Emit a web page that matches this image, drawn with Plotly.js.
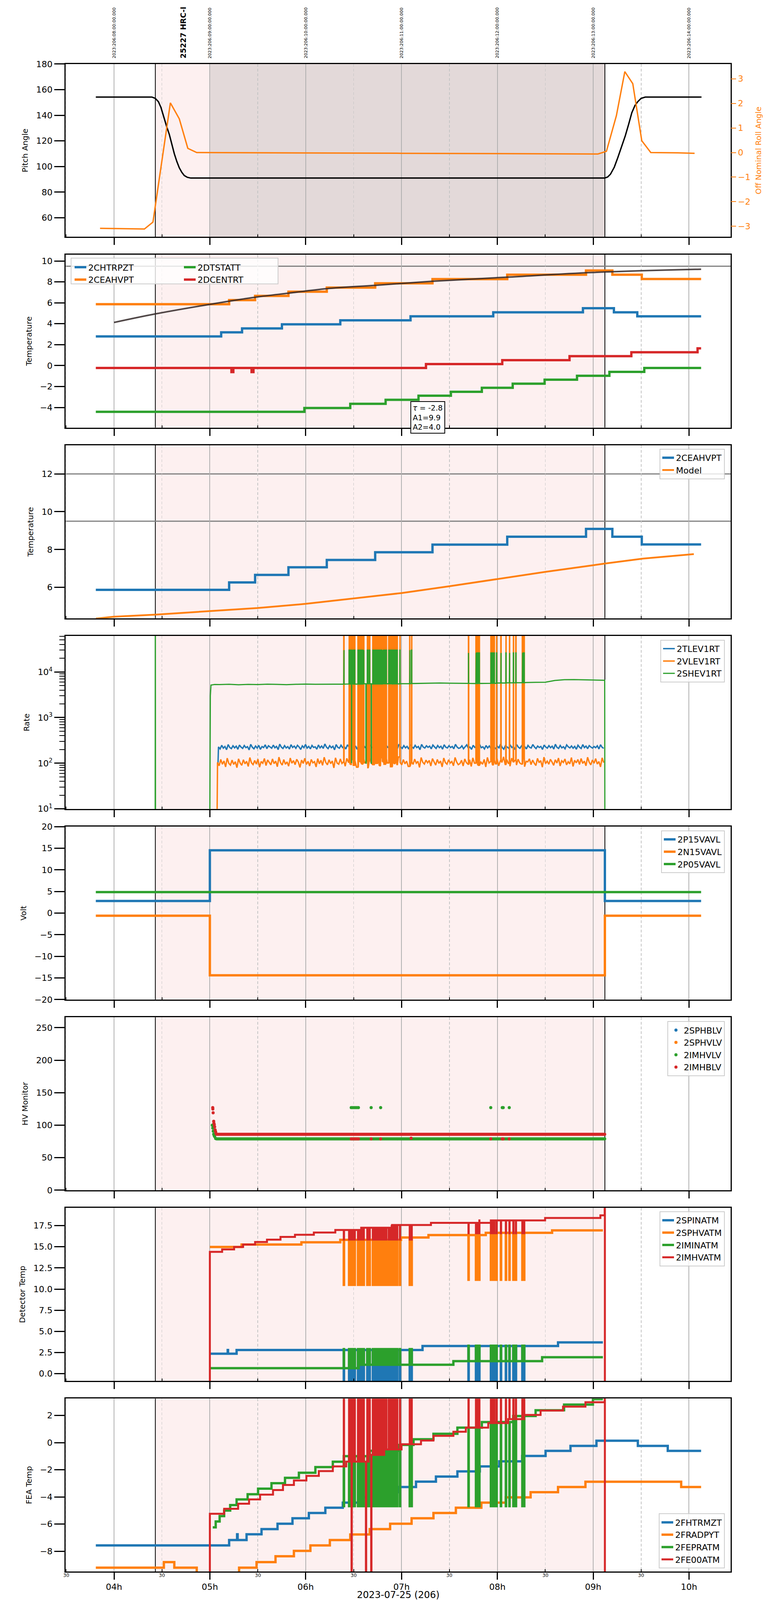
<!DOCTYPE html>
<html>
<head>
<meta charset="utf-8">
<script src="https://cdn.plot.ly/plotly-3.0.1.min.js"></script>
<style>
  html, body { margin: 0; padding: 0; background: #ffffff; }
  #chart { width: 2000px; height: 4096px; }
</style>
</head>
<body>
<div id="chart"></div>
<script>
// ---- time axis (hours, local) ----
var hours = [4, 5, 6, 7, 8, 9, 10];
var hourText = ['04h', '05h', '06h', '07h', '08h', '09h', '10h'];
var halfHours = [3.5, 4.5, 5.5, 6.5, 7.5, 8.5, 9.5];
var utcText = ['2023:206:08:00:00.000', '2023:206:09:00:00.000', '2023:206:10:00:00.000',
  '2023:206:11:00:00.000', '2023:206:12:00:00.000', '2023:206:13:00:00.000', '2023:206:14:00:00.000'];
var timeRange = [3.4947, 10.434];
var obsStart = 4.431, obsEnd = 9.122, sciStart = 5.0;
var obsLabel = '25227 HRC-I', obsLabelT = 4.72;
var dayLabel = '2023-07-25 (206)';

// ---- panel 1: pitch / roll ----
var pitchT = [3.81, 4.395, 4.43, 4.463, 4.49, 4.525, 4.55, 4.577, 4.603, 4.629, 4.655, 4.681, 4.707, 4.733, 4.765, 4.80,
  9.12, 9.15, 9.18, 9.22, 9.257, 9.30, 9.335, 9.37, 9.403, 9.435, 9.465, 9.50, 9.543, 10.13];
var pitchV = [154.2, 154.2, 153.2, 150.6, 146, 137, 131, 125, 117.5, 110, 104, 99, 95.5, 93, 91.6, 91,
  91, 91.8, 94, 99.5, 107, 116, 124, 133, 142, 147.5, 150.6, 153.2, 154.2, 154.2];
var rollT = [3.854, 4.317, 4.406, 4.588, 4.681, 4.770, 4.863, 6.0, 7.0, 8.0, 9.049, 9.138, 9.242, 9.330, 9.413, 9.507, 9.601, 9.882, 10.058];
var rollV = [-3.08, -3.11, -2.83, 2.02, 1.37, 0.17, 0.0, -0.01, -0.03, -0.045, -0.06, 0.05, 1.5, 3.29, 2.8, 0.48, 0.0, -0.01, -0.03];

// ---- panel 2: temperatures ----
var chtrT = [3.81, 5.118, 5.336, 5.752, 6.361, 7.094, 7.957, 8.893, 9.216, 9.46, 10.126];
var chtrV = [2.79, 3.18, 3.55, 3.94, 4.33, 4.71, 5.09, 5.48, 5.09, 4.71, 4.71];
var ceaT = [3.81, 5.201, 5.472, 5.82, 6.22, 6.725, 7.323, 8.103, 8.925, 9.20, 9.507, 10.126];
var ceaV = [5.87, 6.26, 6.66, 7.06, 7.45, 7.86, 8.26, 8.68, 9.09, 8.68, 8.27, 8.27];
var dtsT = [3.81, 5.986, 6.465, 6.834, 7.177, 7.515, 7.838, 8.16, 8.493, 8.831, 9.169, 9.533, 10.126];
var dtsV = [-4.42, -4.05, -3.65, -3.27, -2.88, -2.5, -2.12, -1.73, -1.35, -0.97, -0.6, -0.23, -0.23];
var dcenT = [3.81, 5.225, 5.245, 5.435, 5.455, 7.255, 8.051, 8.753, 9.398, 10.089, 10.126];
var dcenV = [-0.23, -0.62, -0.23, -0.62, -0.23, 0.15, 0.52, 0.9, 1.28, 1.65, 1.65];
var fitT = [4.0, 4.432, 4.998, 5.472, 5.82, 6.22, 6.725, 7.323, 8.103, 8.997, 10.126];
var fitV = [4.12, 4.94, 5.85, 6.53, 6.92, 7.35, 7.67, 8.06, 8.45, 8.9, 9.21];
var fitText = '<i>τ</i> = -2.8<br>A1=9.9<br>A2=4.0';
var tempLimits2 = [9.5];

// ---- panel 3: CEA HV temp vs model ----
var modelT = [3.81, 4.0, 4.43, 5.0, 5.5, 6.0, 6.5, 7.0, 7.5, 8.0, 8.5, 9.0, 9.12, 9.52, 10.05];
var modelV = [4.35, 4.45, 4.56, 4.75, 4.91, 5.13, 5.42, 5.70, 6.06, 6.44, 6.82, 7.17, 7.26, 7.52, 7.76];
var tempLimits3 = [9.5, 12];

// ---- bursts seen in rates / detector temps ----
var burst1T = [6.397, 6.452, 6.460, 6.468, 6.476, 6.484, 6.492, 6.500, 6.510, 6.545, 6.553, 6.561, 6.570,
  6.578, 6.586, 6.595, 6.604, 6.642, 6.650, 6.666, 6.700, 6.707, 6.714, 6.721, 6.728, 6.735, 6.742, 6.749,
  6.756, 6.763, 6.770, 6.777, 6.784, 6.791, 6.798, 6.805, 6.812, 6.819, 6.826, 6.833, 6.840, 6.866, 6.873,
  6.880, 6.887, 6.894, 6.901, 6.908, 6.915, 6.922, 6.930, 6.940, 6.953, 6.982, 7.085, 7.104];
var burst2T = [7.698, 7.776, 7.784, 7.792, 7.800, 7.810, 7.932, 7.940, 7.948, 7.956, 7.966, 7.990, 8.036,
  8.088, 8.125, 8.166, 8.192, 8.260, 8.268, 8.278];
var dropT = [6.478, 6.628, 6.683];

// ---- panel 4: rates ----
var tlevStart = 5.09, tlevEnd = 9.11;
var tlevV = [228,205,247,214,233,198,256,221,209,241,217,236,202,250,225,211,244,219,230,196,259,223,207,238,215,246,201,232,220,253,
  208,241,226,213,249,218,234,199,262,224,210,243,216,231,204,255,221,237,212,247,227,200,240,219,258,214,233,206,245,222,
  229,203,251,217,238,211,264,225,209,242,218,235,197,256,223,213,248,220,231,205,253,226,216,244,210,239,202,260,228,215,
  246,221,233,199,252,224,212,240,218,236,207,257,227,214,249,222,230,201,245,219,238,209,261,225,211,243,217,234,204,255,
  229,213,247,220,232,198,258,226,215,241,223,237,206,250,228,210,244,219,235,203,254,224,216,242,221,233,207,259,227,212,
  218,241,207,232,253,214,226,201,247,222,236,210,258,219,229,205,244,216,239,211,251,224,208,235,217,262,221,203,242,228,
  213,249,220,234,199,255,225,212,240,218,231,206,246,223,215,257,227,209,238,221,233,200,250,226,214,243,219,236,204,260,
  222,211,245,217,230,207,252,228,216,239,213,234,202,248,224,210,256,220,237,208,243,226,215,232,219,241,205,254,223,212];
var vlevStart = 5.08, vlevEnd = 9.11;
var vlevV = [104,88,121,95,112,83,129,99,91,117,94,108,80,125,101,90,119,97,110,85,133,102,93,115,96,123,82,109,100,127,
  89,118,105,92,124,98,111,84,136,103,91,120,95,107,86,130,100,114,93,122,106,81,117,99,128,94,110,87,121,102,
  108,83,126,97,116,90,135,104,92,119,98,112,79,131,101,95,124,99,108,86,128,105,94,120,90,115,82,134,106,96,
  123,100,111,80,127,103,93,118,99,113,88,132,107,95,125,101,109,84,122,98,114,91,137,104,92,120,97,111,85,129,
  106,94,123,100,110,81,133,105,96,117,102,115,87,126,107,91,121,99,112,83,130,103,95,119,101,109,88,134,106,93,
  98,116,87,124,103,93,119,85,131,100,112,90,127,106,95,121,83,134,101,109,92,118,97,126,88,113,104,138,94,120,
  99,86,129,105,115,91,123,102,96,132,84,110,107,125,93,117,100,89,128,103,114,82,136,98,111,95,122,106,90,119,
  101,130,87,113,104,124,92,108,97,133,85,116,102,121,94,127,99,111,88,135,105,92,118,100,126,96,109,83,131,103];
var shevT = [3.81, 4.429, 4.431, 4.433, 4.998, 5.005, 5.012, 5.05, 5.1, 5.2, 5.3, 5.4, 5.5, 5.6, 5.7, 5.8, 5.9, 6.0,
  6.1, 6.2, 6.3, 6.4, 6.5, 6.6, 6.7, 6.8, 6.9, 7.0, 7.1, 7.2, 7.3, 7.4, 7.5, 7.6, 7.7, 7.8, 7.9, 8.0, 8.1, 8.2,
  8.3, 8.4, 8.5, 8.6, 8.7, 8.8, 8.9, 9.0, 9.1, 9.12, 9.122];
var shevV = [1, 1, 1e6, 1, 1, 3000, 5150, 5300, 5280, 5350, 5240, 5320, 5290, 5380, 5330, 5260, 5350, 5400,
  5370, 5420, 5390, 5450, 5410, 5480, 5440, 5500, 5470, 5520, 5560, 5600, 5680, 5720, 5650, 5600, 5560, 5590,
  5640, 5700, 5760, 5800, 5850, 5900, 5950, 6500, 6750, 6800, 6700, 6650, 6600, 6550, 1];

// ---- panel 5: voltages ----
var voltT = [3.81, 5.0, 9.122, 10.126];
var p15V = [2.8, 14.53, 2.8, 2.8];
var n15V = [-0.6, -14.4, -0.6, -0.6];
var p05T = [3.81, 10.126];
var p05V = [4.86, 4.86];

// ---- panel 6: HV monitors ----
var hvStart = 5.07, hvEnd = 9.12, hvStep = 0.01;
var imhbLevel = 86, imhvLevel = 79;
var imhbRampT = [5.030, 5.031, 5.034, 5.040, 5.042, 5.046, 5.050, 5.055, 5.060, 5.065];
var imhbRampV = [127, 125, 119, 106, 103, 101, 97.5, 92.8, 90, 87];
var imhvRampT = [5.025, 5.030, 5.035, 5.040, 5.045, 5.050, 5.060];
var imhvRampV = [100, 95.6, 90.9, 86.2, 84, 82.5, 79.6];
var hvBurstT = [6.475, 6.49, 6.505, 6.52, 6.535, 6.55, 6.683, 6.782, 7.931, 8.051, 8.061, 8.124];
var imhvBurstV = 127, imhbBurstV = 79;
var imhbExtraT = [7.10], imhbExtraV = [80];

// ---- panel 7: detector temps ----
var imhvatT = [4.998, 5.0, 5.128, 5.253, 5.347, 5.472, 5.596, 5.737, 5.888, 6.085, 6.309, 6.579, 6.897, 7.307, 7.812, 8.498, 9.075, 9.12, 9.122];
var imhvatV = [-3, 14.4, 14.69, 14.98, 15.27, 15.56, 15.84, 16.17, 16.42, 16.68, 16.99, 17.25, 17.57, 17.83, 18.12, 18.4, 18.72, 25, -3];
var sphvatT = [5.0, 5.331, 5.955, 6.361, 6.995, 7.281, 7.879, 8.571, 9.101];
var sphvatV = [14.98, 15.27, 15.53, 15.82, 16.1, 16.39, 16.65, 16.94, 16.94];
var spinatT = [5.0, 5.186, 5.19, 5.279, 7.219, 8.633, 9.101];
var spinatV = [2.36, 2.8, 2.36, 2.8, 3.27, 3.7, 3.7];
var iminatT = [5.0, 6.553, 7.541, 8.467, 9.101];
var iminatV = [0.65, 1.05, 1.48, 1.94, 1.94];

// ---- panel 8: FEA temps ----
var fhtrT = [3.81, 5.201, 5.284, 5.29, 5.383, 5.539, 5.706, 5.862, 6.033, 6.205, 6.387, 6.579, 6.865, 6.969, 7.151,
  7.359, 7.583, 7.817, 8.02, 8.259, 8.503, 8.763, 9.034, 9.466, 9.778, 10.126];
var fhtrV = [-7.57, -7.17, -6.75, -7.17, -6.75, -6.37, -5.97, -5.57, -5.18, -4.79, -4.42, -4.03, -3.65, -3.27, -2.87,
  -2.5, -2.12, -1.75, -1.38, -0.98, -0.61, -0.24, 0.14, -0.24, -0.61, -0.61];
var fradT = [3.81, 4.52, 4.629, 4.863, 5.305, 5.487, 5.685, 5.877, 6.049, 6.252, 6.465, 6.668, 6.881, 7.105, 7.333,
  7.567, 7.833, 8.087, 8.347, 8.633, 8.919, 9.918, 10.126];
var fradV = [-9.21, -8.8, -9.21, -9.8, -9.21, -8.8, -8.37, -7.97, -7.57, -7.17, -6.76, -6.37, -5.97, -5.57, -5.18,
  -4.79, -4.42, -4.03, -3.65, -3.27, -2.88, -3.27, -3.27];
var feprT = [5.03, 5.061, 5.102, 5.149, 5.212, 5.279, 5.394, 5.503, 5.643, 5.784, 5.929, 6.101, 6.283, 6.397, 6.657,
  6.969, 7.125, 7.333, 7.583, 7.838, 8.165, 8.399, 8.696, 8.997, 9.101];
var feprV = [-6.24, -5.81, -5.41, -5.0, -4.6, -4.18, -3.8, -3.39, -2.99, -2.59, -2.22, -1.8, -1.41, -1.0, -0.6,
  -0.17, 0.25, 0.65, 1.1, 1.51, 1.96, 2.38, 2.8, 3.2, 3.2];
var fe00T = [4.998, 5.0, 5.149, 5.295, 5.409, 5.524, 5.659, 5.763, 5.877, 6.007, 6.137, 6.283, 6.423, 6.657, 6.813,
  7.0, 7.203, 7.333, 7.541, 7.671, 7.905, 8.113, 8.269, 8.451, 8.685, 8.919, 9.101, 9.12, 9.122];
var fe00V = [-11, -5.24, -4.87, -4.5, -4.18, -3.83, -3.49, -3.12, -2.79, -2.45, -2.1, -1.75, -1.4, -0.9, -0.5,
  -0.12, 0.15, 0.5, 0.8, 1.1, 1.44, 1.73, 2.04, 2.36, 2.65, 2.97, 2.97, 5, -11];

// ---- colours / fonts ----
var C = { blue: '#1f77b4', orange: '#ff7f0e', green: '#2ca02c', red: '#d62728' };
var FONT = 'DejaVu Sans';
var TICK_FS = 22, TITLE_FS = 20, LEG_FS = 22;

// ---- geometry: positions measured on a 2000x6200 sheet, drawn into the 2000x4096 viewport ----
var W = 2000, H = 4096, REF_H = 6200, ML = 168, MR = 129;
var panelTop = [], PANEL_H = 670;
for (var i = 0; i < 8; i++) panelTop.push(248 + 738.8 * i);
function px2x(px) { return (px - ML) / (W - ML - MR); }
function px2y(py) { return 1 - py / REF_H; }
function xn(i) { return i === 0 ? 'x' : 'x' + (i + 1); }
function yn(i) { return i === 0 ? 'y' : 'y' + (i + 1); }

// helpers
function addSpikes(t, v, spikeT, peak) {
  var w = 0.003, eps = 0.0002;
  var pts = t.map(function(x, k) { return [x, v[k]]; });
  spikeT.forEach(function(s) {
    if (s < t[0] || s > t[t.length - 1]) return;
    var base = v[0];
    for (var k = 0; k < t.length && t[k] <= s; k++) base = v[k];
    pts.push([s, base], [s + eps, peak], [s + w, peak], [s + w + eps, base]);
  });
  pts.sort(function(a, b) { return a[0] - b[0]; });
  return { t: pts.map(function(p) { return p[0]; }), v: pts.map(function(p) { return p[1]; }) };
}
function grid(t0, t1, n) {
  var out = [];
  for (var k = 0; k < n; k++) out.push(t0 + k * (t1 - t0) / (n - 1));
  return out;
}
function line(name, t, v, color, p, legend, width, shape) {
  var tr = {
    x: t, y: v, name: name, type: 'scatter', mode: 'lines',
    xaxis: xn(p), yaxis: yn(p), showlegend: !!legend,
    line: { color: color, width: width, shape: shape || 'hv' }, hoverinfo: 'skip'
  };
  if (legend) tr.legend = legend;
  return tr;
}

var traces = [];

// panel 1
traces.push(line('Pitch', pitchT, pitchV, '#000000', 0, null, 3.5, 'linear'));
var rollTr = line('Roll', rollT, rollV, C.orange, 0, null, 3.5, 'linear');
rollTr.yaxis = 'y9';
traces.push(rollTr);

// panel 2
traces.push(line('2CHTRPZT', chtrT, chtrV, C.blue, 1, 'legend', 6));
traces.push(line('2CEAHVPT', ceaT, ceaV, C.orange, 1, 'legend', 6));
traces.push(line('2DTSTATT', dtsT, dtsV, C.green, 1, 'legend2', 6));
traces.push(line('2DCENTRT', dcenT, dcenV, C.red, 1, 'legend2', 6));
traces.push(line('fit', fitT, fitV, 'rgba(50,40,40,0.85)', 1, null, 4, 'spline'));

// panel 3
traces.push(line('2CEAHVPT', ceaT, ceaV, C.blue, 2, 'legend3', 6));
traces.push(line('Model', modelT, modelV, C.orange, 2, 'legend3', 4.5, 'linear'));

// panel 4
var tlevT = grid(tlevStart, tlevEnd, tlevV.length);
traces.push(line('2TLEV1RT', [5.085].concat(tlevT), [100].concat(tlevV), C.blue, 3, 'legend4', 3.5, 'linear'));
var vlevT = grid(vlevStart, vlevEnd, vlevV.length);
var vl = addSpikes([5.072].concat(vlevT), [1].concat(vlevV), burst1T, 1e6);
vl = addSpikes(vl.t, vl.v, burst2T, 1e6);
traces.push(line('2VLEV1RT', vl.t, vl.v, C.orange, 3, 'legend4', 3.5, 'linear'));
var sh = addSpikes(shevT, shevV, burst1T, 30000);
sh = addSpikes(sh.t, sh.v, burst2T, 26000);
sh = addSpikes(sh.t, sh.v, dropT, 100);
traces.push(line('2SHEV1RT', sh.t, sh.v, C.green, 3, 'legend4', 3, 'linear'));

// panel 5
traces.push(line('2P15VAVL', voltT, p15V, C.blue, 4, 'legend5', 6));
traces.push(line('2N15VAVL', voltT, n15V, C.orange, 4, 'legend5', 6));
traces.push(line('2P05VAVL', p05T, p05V, C.green, 4, 'legend5', 6));

// panel 6
var hvGrid = [];
for (var t = hvStart; t <= hvEnd + 1e-9; t += hvStep) hvGrid.push(+t.toFixed(3));
function dots(name, t, v, color) {
  return { x: t, y: v, name: name, type: 'scatter', mode: 'markers', xaxis: 'x6', yaxis: 'y6',
    legend: 'legend6', marker: { color: color, size: 8 }, hoverinfo: 'skip' };
}
traces.push(dots('2SPHBLV', [sciStart], [null], C.blue));
traces.push(dots('2SPHVLV', [sciStart], [null], C.orange));
traces.push(dots('2IMHVLV',
  imhvRampT.concat(hvGrid, hvBurstT),
  imhvRampV.concat(hvGrid.map(function() { return imhvLevel; }), hvBurstT.map(function() { return imhvBurstV; })),
  C.green));
traces.push(dots('2IMHBLV',
  imhbRampT.concat(hvGrid, hvBurstT, imhbExtraT),
  imhbRampV.concat(hvGrid.map(function() { return imhbLevel; }), hvBurstT.map(function() { return imhbBurstV; }), imhbExtraV),
  C.red));

// panel 7
var s7 = addSpikes(spinatT, spinatV, burst1T, -2); s7 = addSpikes(s7.t, s7.v, burst2T, -2);
var o7 = addSpikes(sphvatT, sphvatV, burst1T, 10.5); o7 = addSpikes(o7.t, o7.v, burst2T, 11.1);
var g7 = addSpikes(iminatT, iminatV, burst1T, 2.9); g7 = addSpikes(g7.t, g7.v, burst2T, 3.3);
var r7 = addSpikes(imhvatT, imhvatV, burst1T, 15.85); r7 = addSpikes(r7.t, r7.v, burst2T, 16.6);
traces.push(line('2SPINATM', s7.t, s7.v, C.blue, 6, 'legend7', 6));
traces.push(line('2SPHVATM', o7.t, o7.v, C.orange, 6, 'legend7', 6));
traces.push(line('2IMINATM', g7.t, g7.v, C.green, 6, 'legend7', 6));
traces.push(line('2IMHVATM', r7.t, r7.v, C.red, 6, 'legend7', 5));

// panel 8
var g8 = addSpikes(feprT, feprV, burst1T, -4.68); g8 = addSpikes(g8.t, g8.v, burst2T, -4.68);
var r8 = addSpikes(fe00T, fe00V, burst1T, 5); r8 = addSpikes(r8.t, r8.v, burst2T, 5);
r8 = addSpikes(r8.t, r8.v, dropT, -11);
traces.push(line('2FHTRMZT', fhtrT, fhtrV, C.blue, 7, 'legend8', 6));
traces.push(line('2FRADPYT', fradT, fradV, C.orange, 7, 'legend8', 6));
traces.push(line('2FEPRATM', g8.t, g8.v, C.green, 7, 'legend8', 6));
traces.push(line('2FE00ATM', r8.t, r8.v, C.red, 7, 'legend8', 5));

// ---- layout ----
var layout = {
  width: W, height: H,
  margin: { l: ML, r: MR, t: 0, b: 0 },
  paper_bgcolor: '#ffffff', plot_bgcolor: '#ffffff',
  font: { family: FONT, size: TICK_FS, color: '#000000' },
  showlegend: true,
  shapes: [], annotations: []
};

var yCfg = [
  { title: 'Pitch Angle', range: [45.1, 180], tickvals: [60, 80, 100, 120, 140, 160, 180] },
  { title: 'Temperature', range: [-5.92, 10.6], tickvals: [-4, -2, 0, 2, 4, 6, 8, 10] },
  { title: 'Temperature', range: [4.37, 13.51], tickvals: [6, 8, 10, 12] },
  { title: 'Rate', range: [1, 4.787], type: 'log', tickvals: [10, 100, 1000, 10000],
    ticktext: ['10<sup>1</sup>', '10<sup>2</sup>', '10<sup>3</sup>', '10<sup>4</sup>'] },
  { title: 'Volt', range: [-20, 20], tickvals: [-20, -15, -10, -5, 0, 5, 10, 15, 20] },
  { title: 'HV Monitor', range: [0, 266], tickvals: [0, 50, 100, 150, 200, 250] },
  { title: 'Detector Temp', range: [-0.85, 19.59], tickvals: [0, 2.5, 5, 7.5, 10, 12.5, 15, 17.5], tickformat: '.1f' },
  { title: 'FEA Temp', range: [-9.49, 3.24], tickvals: [-8, -6, -4, -2, 0, 2] }
];

var logMinor = [];
[10, 100, 1000, 10000].forEach(function(d) { for (var m = 2; m <= 9; m++) if (d * m < 61000) logMinor.push(d * m); });

for (var p = 0; p < 8; p++) {
  var pTop = panelTop[p], pBot = pTop + PANEL_H;
  var dom = [px2y(pBot), px2y(pTop)];
  var xa = {
    domain: [0, 1], range: timeRange, anchor: yn(p),
    tickmode: 'array', tickvals: hours, ticktext: hourText, showticklabels: p === 7,
    ticks: 'outside', ticklen: 18, tickwidth: 3, tickcolor: '#000',
    tickfont: { size: TICK_FS },
    showgrid: true, gridcolor: '#b0b0b0', gridwidth: 2,
    minor: { tickmode: 'array', tickvals: halfHours, ticks: 'inside', ticklen: 6, tickwidth: 2, tickcolor: '#000',
      showgrid: true, gridcolor: '#c4c4c4', gridwidth: 1.5, griddash: '7px,5px' },
    showline: true, linecolor: '#000', linewidth: 3, mirror: true, zeroline: false, automargin: false
  };
  layout[p === 0 ? 'xaxis' : 'xaxis' + (p + 1)] = xa;

  var c = yCfg[p];
  var ya = {
    domain: dom, range: c.range, anchor: xn(p), type: c.type || 'linear',
    tickmode: 'array', tickvals: c.tickvals,
    ticks: 'outside', ticklen: 26, tickwidth: 3, tickcolor: '#000', tickfont: { size: TICK_FS },
    title: { text: c.title, font: { size: TITLE_FS }, standoff: 16 },
    showline: true, linecolor: '#000', linewidth: 3, mirror: true,
    showgrid: false, zeroline: false, automargin: false
  };
  if (c.ticktext) ya.ticktext = c.ticktext;
  if (c.tickformat) ya.tickformat = c.tickformat;
  if (c.type === 'log') ya.minor = { tickmode: 'array', tickvals: logMinor, ticks: 'outside', ticklen: 13, tickwidth: 2, tickcolor: '#000', showgrid: false };
  layout[p === 0 ? 'yaxis' : 'yaxis' + (p + 1)] = ya;

  // observation band and event lines
  layout.shapes.push({ type: 'rect', xref: xn(p), yref: yn(p) + ' domain', x0: obsStart, x1: obsEnd, y0: 0, y1: 1,
    fillcolor: '#fdf0f0', line: { width: 0 }, layer: 'below' });
  if (p === 0) {
    layout.shapes.push({ type: 'rect', xref: 'x', yref: 'y domain', x0: sciStart, x1: obsEnd, y0: 0, y1: 1,
      fillcolor: '#e3d9d9', line: { width: 0 }, layer: 'below' });
  }
  [obsStart, obsEnd].forEach(function(tv) {
    layout.shapes.push({ type: 'line', xref: xn(p), yref: yn(p) + ' domain', x0: tv, x1: tv, y0: 0, y1: 1,
      line: { color: '#000000', width: 2 }, layer: 'below' });
  });
}

// right axis for roll
layout.yaxis9 = {
  overlaying: 'y', side: 'right', anchor: 'x', range: [-3.43, 3.6],
  tickmode: 'array', tickvals: [-3, -2, -1, 0, 1, 2, 3],
  ticks: 'outside', ticklen: 13, tickwidth: 2, tickcolor: C.orange,
  tickfont: { size: TICK_FS, color: C.orange },
  title: { text: 'Off Nominal Roll Angle', font: { size: TITLE_FS, color: C.orange }, standoff: 14 },
  showline: false, showgrid: false, zeroline: false, automargin: false
};

// limit lines
tempLimits2.forEach(function(v) {
  layout.shapes.push({ type: 'line', xref: 'x2 domain', yref: 'y2', x0: 0, x1: 1, y0: v, y1: v,
    line: { color: '#808080', width: 3 }, layer: 'below' });
});
tempLimits3.forEach(function(v) {
  layout.shapes.push({ type: 'line', xref: 'x3 domain', yref: 'y3', x0: 0, x1: 1, y0: v, y1: v,
    line: { color: '#808080', width: 3 }, layer: 'below' });
});

// panel 2 two-column legend box
layout.shapes.push({ type: 'rect', xref: 'paper', yref: 'paper', x0: px2x(182), x1: px2x(712), y0: px2y(1100), y1: px2y(1000),
  fillcolor: 'rgba(255,255,255,0.8)', line: { color: '#cccccc', width: 2 }, layer: 'above' });

// legends
function legendBox(xPx, yPx, xanchor, yanchor) {
  return { x: px2x(xPx), y: px2y(yPx), xanchor: xanchor, yanchor: yanchor, xref: 'paper', yref: 'paper',
    bgcolor: 'rgba(255,255,255,0.8)', bordercolor: '#cccccc', borderwidth: 2,
    font: { family: FONT, size: LEG_FS } };
}
layout.legend = legendBox(186, 1004, 'left', 'top');
layout.legend.bgcolor = 'rgba(0,0,0,0)'; layout.legend.borderwidth = 0;
layout.legend2 = legendBox(466, 1004, 'left', 'top');
layout.legend2.bgcolor = 'rgba(0,0,0,0)'; layout.legend2.borderwidth = 0;
layout.legend3 = legendBox(1856, 1739, 'right', 'top');
layout.legend4 = legendBox(1856, 2479, 'right', 'top');
layout.legend5 = legendBox(1856, 3218, 'right', 'top');
layout.legend6 = legendBox(1856, 3957, 'right', 'top');
layout.legend7 = legendBox(1856, 4694, 'right', 'top');
layout.legend8 = legendBox(1856, 6078, 'right', 'bottom');

// annotations: UTC labels on top, obsid, minor tick labels, x label, fit box
hours.forEach(function(h, k) {
  layout.annotations.push({ x: h, xref: 'x', y: px2y(229), yref: 'paper', yanchor: 'bottom', xanchor: 'center',
    text: utcText[k], textangle: -90, showarrow: false, font: { size: 11, color: '#000' } });
});
layout.annotations.push({ x: obsLabelT, xref: 'x', y: px2y(229), yref: 'paper', yanchor: 'bottom', xanchor: 'center',
  text: '<b>' + obsLabel + '</b>', textangle: -90, showarrow: false, font: { size: 19, color: '#000' } });
halfHours.forEach(function(h) {
  layout.annotations.push({ x: h, xref: 'x8', y: px2y(6104), yref: 'paper', yanchor: 'middle', xanchor: 'center',
    text: '30', showarrow: false, font: { size: 12, color: '#000' } });
});
layout.annotations.push({ x: 0.5, xref: 'paper', y: px2y(6180), yref: 'paper', yanchor: 'middle', xanchor: 'center',
  text: dayLabel, showarrow: false, font: { size: 24, color: '#000' } });
layout.annotations.push({ x: 7.276, xref: 'x2', y: px2y(1617), yref: 'paper', xanchor: 'center', yanchor: 'middle',
  text: fitText, showarrow: false, align: 'left', font: { size: 19, color: '#000' },
  bgcolor: '#ffffff', bordercolor: '#000000', borderwidth: 2, borderpad: 4 });

Plotly.newPlot('chart', traces, layout, { displayModeBar: false, staticPlot: true });
</script>
</body>
</html>
